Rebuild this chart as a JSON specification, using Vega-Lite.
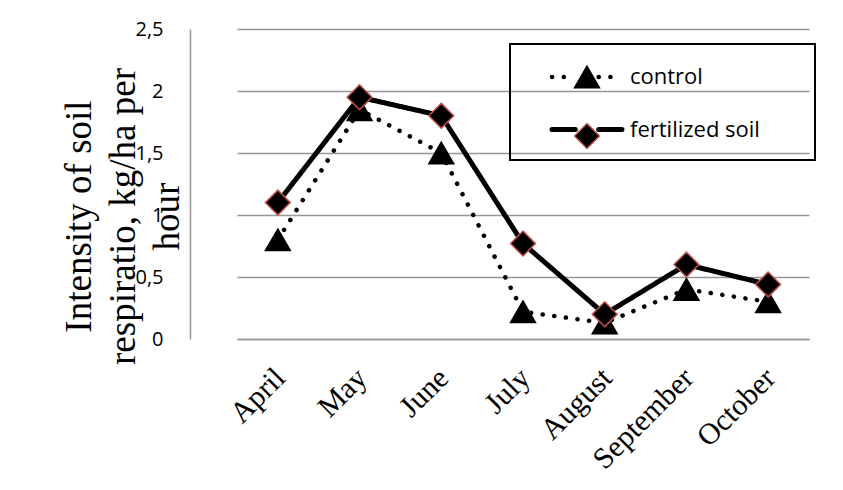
{
  "$schema": "https://vega.github.io/schema/vega-lite/v6.json",
  "width": 653,
  "height": 310,
  "autosize": {"type": "none"},
  "padding": {"left": 190, "top": 29, "right": 0, "bottom": 151},
  "background": "white",
  "config": {"view": {"stroke": null}},
  "data": {
    "values": [
      {"month": "April", "series": "control", "value": 0.8},
      {"month": "May", "series": "control", "value": 1.85},
      {"month": "June", "series": "control", "value": 1.5},
      {"month": "July", "series": "control", "value": 0.22},
      {"month": "August", "series": "control", "value": 0.13},
      {"month": "September", "series": "control", "value": 0.4},
      {"month": "October", "series": "control", "value": 0.3},
      {"month": "April", "series": "fertilized soil", "value": 1.1},
      {"month": "May", "series": "fertilized soil", "value": 1.95},
      {"month": "June", "series": "fertilized soil", "value": 1.8},
      {"month": "July", "series": "fertilized soil", "value": 0.77},
      {"month": "August", "series": "fertilized soil", "value": 0.2},
      {"month": "September", "series": "fertilized soil", "value": 0.6},
      {"month": "October", "series": "fertilized soil", "value": 0.44}
    ]
  },
  "encoding": {
    "x": {
      "field": "month",
      "type": "ordinal",
      "sort": ["April", "May", "June", "July", "August", "September", "October"],
      "scale": {"type": "point", "range": [47, 619]},
      "axis": {
        "title": null,
        "domain": true,
        "domainColor": "#969696",
        "domainWidth": 1.5,
        "ticks": false,
        "tickSize": 0,
        "grid": false,
        "labelAngle": -45,
        "labelAlign": "right",
        "labelBaseline": "top",
        "labelPadding": 23.5,
        "labelOffset": -8.5,
        "labelFont": "Liberation Serif",
        "labelFontSize": 30,
        "labelColor": "black",
        "labelOverlap": false,
        "labelBound": false,
        "labelFlush": false
      }
    },
    "y": {
      "field": "value",
      "type": "quantitative",
      "scale": {"domain": [0, 2.5], "nice": false, "zero": true},
      "axis": {
        "values": [0, 0.5, 1, 1.5, 2, 2.5],
        "labelExpr": "replace(toString(datum.value), '.', ',')",
        "domain": true,
        "domainColor": "#969696",
        "domainWidth": 1.5,
        "grid": true,
        "gridColor": "#969696",
        "gridWidth": 1.5,
        "ticks": false,
        "tickSize": 0,
        "labelPadding": 27,
        "labelFont": "Open Sans",
        "labelFontSize": 20,
        "labelColor": "black",
        "labelBaseline": "middle",
        "title": ["Intensity of soil", "respiratio, kg/ha per", "hour"],
        "titleFont": "Liberation Serif",
        "titleFontSize": 37,
        "titleFontWeight": "normal",
        "titleColor": "black",
        "titleLineHeight": 44,
        "titleAngle": -90,
        "titleAlign": "center",
        "titleBaseline": "alphabetic",
        "titleX": -100,
        "titleY": 187
      }
    }
  },
  "layer": [
    {
      "mark": {"type": "line", "color": "black", "strokeCap": "round", "strokeJoin": "round"},
      "encoding": {
        "strokeDash": {
          "field": "series",
          "type": "nominal",
          "scale": {"range": [[0.1, 11.6], [1, 0]]},
          "legend": {
            "title": null,
            "orient": "none",
            "legendX": 320,
            "legendY": 15,
            "padding": 19,
            "strokeColor": "black",
            "symbolType": "M-3,0H-1M1,0H3M17,0",
            "symbolSize": 544,
            "symbolStrokeColor": "black",
            "symbolOffset": 43.5,
            "labelOffset": 28.5,
            "labelFont": "Open Sans",
            "labelFontSize": 22,
            "labelColor": "black",
            "labelLimit": 400,
            "rowPadding": 27,
            "encoding": {"symbols": {"strokeCap": {"value": "round"}}, "legend": {"strokeWidth": {"value": 2}}}
          }
        },
        "strokeWidth": {
          "field": "series",
          "type": "nominal",
          "scale": {"range": [4.5, 5]},
          "legend": {
            "title": null,
            "orient": "none",
            "legendX": 320,
            "legendY": 15,
            "padding": 19,
            "strokeColor": "black",
            "symbolType": "M-3,0H-1M1,0H3M17,0",
            "symbolSize": 544,
            "symbolStrokeColor": "black",
            "symbolOffset": 43.5,
            "labelOffset": 28.5,
            "labelFont": "Open Sans",
            "labelFontSize": 22,
            "labelColor": "black",
            "labelLimit": 400,
            "rowPadding": 27,
            "encoding": {"symbols": {"strokeCap": {"value": "round"}}, "legend": {"strokeWidth": {"value": 2}}}
          }
        }
      }
    },
    {
      "mark": {"type": "point", "filled": true, "fill": "black", "size": 620, "strokeWidth": 1.5, "opacity": 1},
      "encoding": {
        "shape": {
          "field": "series",
          "type": "nominal",
          "scale": {"domain": ["control", "fertilized soil"], "range": ["triangle-up", "diamond"]},
          "legend": {
            "title": null,
            "orient": "none",
            "legendX": 383.5,
            "legendY": 34.5,
            "padding": 0,
            "symbolSize": 620,
            "symbolFillColor": "black",
            "symbolStrokeWidth": 1.5,
            "rowPadding": 29,
            "labelExpr": "''",
            "labelFontSize": 21,
            "symbolOffset": 0
          }
        },
        "stroke": {
          "field": "series",
          "type": "nominal",
          "scale": {"domain": ["control", "fertilized soil"], "range": ["black", "#c0504d"]},
          "legend": {
            "title": null,
            "orient": "none",
            "legendX": 383.5,
            "legendY": 34.5,
            "padding": 0,
            "symbolSize": 620,
            "symbolFillColor": "black",
            "symbolStrokeWidth": 1.5,
            "rowPadding": 29,
            "labelExpr": "''",
            "labelFontSize": 21,
            "symbolOffset": 0
          }
        }
      }
    }
  ]
}
